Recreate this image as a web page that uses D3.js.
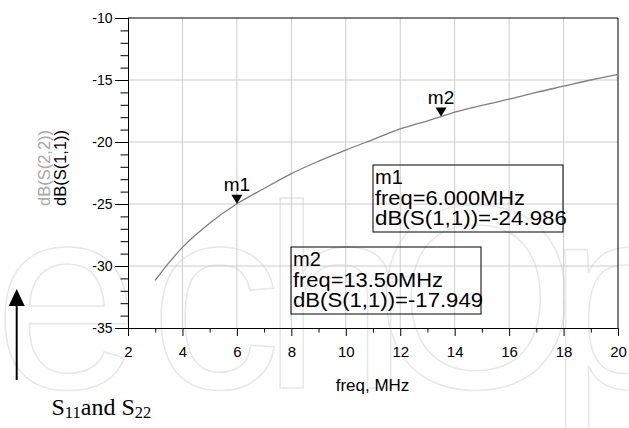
<!doctype html>
<html>
<head>
<meta charset="utf-8">
<style>
  body { margin: 0; background: #fff; }
  svg text { font-family: "Liberation Sans", Arial, Helvetica, sans-serif; }
</style>
<script src="https://d3js.org/d3.v7.min.js"></script>
</head>
<body>
<div id="chart"></div>
<script>
// curve dB(S(1,1))
var freqMHz = [3, 3.5, 4, 5, 6, 7, 8, 9, 10, 11, 12, 13, 13.5, 14, 15, 16, 17, 18, 19, 20];
var dbS11 = [-31.15, -29.75, -28.5, -26.55, -24.986, -23.75, -22.55, -21.55, -20.65, -19.8,
             -18.95, -18.3, -17.949, -17.6, -17.05, -16.55, -16.0, -15.5, -15.0, -14.55];

// markers
var markerNames = ["m1", "m2"];
var markerFreq = [6.0, 13.5];
var markerDb = [-24.986, -17.949];
var markerFreqText = ["freq=6.000MHz", "freq=13.50MHz"];
var markerDbText = ["dB(S(1,1))=-24.986", "dB(S(1,1))=-17.949"];

// ticks
var xMajor = [2, 4, 6, 8, 10, 12, 14, 16, 18, 20];
var xMinor = [3, 5, 7, 9, 11, 13, 15, 17, 19];
var yMajor = [-35, -30, -25, -20, -15, -10];
var yMinor = [-34, -33, -32, -31, -29, -28, -27, -26, -24, -23, -22, -21, -19, -18, -17, -16, -14, -13, -12, -11];

// watermark letters
var wmLetters = ["e", "c", "h", "O", "p"];

var W = 629, H = 428;
var svg = d3.select("#chart").append("svg")
    .attr("width", W)
    .attr("height", H);

// faint watermark behind everything
var wmX = [-6, 150, 262, 374, 548];
svg.append("g").selectAll("text")
    .data(wmLetters)
    .enter().append("text")
    .attr("x", function(d, i) { return wmX[i]; })
    .attr("y", 388)
    .attr("font-size", 262)
    .attr("fill", "none")
    .attr("stroke", "#e8e8e8")
    .attr("stroke-width", 1.6)
    .text(function(d) { return d; });

var x = d3.scaleLinear().domain([2, 20]).range([128, 618]);
var y = d3.scaleLinear().domain([-35, -10]).range([328, 18]);

// grid
svg.append("g").selectAll("line")
    .data(xMajor.slice(1, -1))
    .enter().append("line")
    .attr("x1", function(d) { return x(d); })
    .attr("x2", function(d) { return x(d); })
    .attr("y1", y(-10))
    .attr("y2", y(-35))
    .attr("stroke", "#cccccc");
svg.append("g").selectAll("line")
    .data(yMajor.slice(1, -1))
    .enter().append("line")
    .attr("x1", x(2))
    .attr("x2", x(20))
    .attr("y1", function(d) { return y(d); })
    .attr("y2", function(d) { return y(d); })
    .attr("stroke", "#cccccc");

// frame top / right
svg.append("path")
    .attr("d", "M" + x(2) + "," + y(-10) + "H" + x(20) + "V" + y(-35))
    .attr("fill", "none")
    .attr("stroke", "#000");

// x axis
var xAxis = svg.append("g").attr("transform", "translate(0," + y(-35) + ")");
xAxis.call(d3.axisBottom(x).tickValues(xMajor).tickSize(8).tickPadding(10).tickFormat(String));
xAxis.append("g").call(d3.axisBottom(x).tickValues(xMinor).tickSize(4.5).tickFormat(""));
xAxis.selectAll("text").attr("font-size", 15).attr("fill", "#000");

// y axis
var yAxis = svg.append("g").attr("transform", "translate(" + x(2) + ",0)");
yAxis.call(d3.axisLeft(y).tickValues(yMajor).tickSize(13).tickPadding(2.5).tickFormat(String));
yAxis.append("g").call(d3.axisLeft(y).tickValues(yMinor).tickSize(7.5).tickFormat(""));
yAxis.selectAll("text").attr("font-size", 14).attr("fill", "#000");

svg.selectAll(".domain").attr("stroke", "#000");
svg.selectAll(".tick line").attr("stroke", "#000");

// curve
var line = d3.line()
    .x(function(d, i) { return x(freqMHz[i]); })
    .y(function(d) { return y(d); })
    .curve(d3.curveMonotoneX);
svg.append("path")
    .datum(dbS11)
    .attr("d", line)
    .attr("fill", "none")
    .attr("stroke", "#7f7f7f")
    .attr("stroke-width", 1.3);

// marker triangles + names
markerNames.forEach(function(name, i) {
    var px = x(markerFreq[i]), py = y(markerDb[i]);
    svg.append("path")
        .attr("d", "M" + (px - 5.5) + "," + (py - 9) + "L" + (px + 5.5) + "," + (py - 9) + "L" + px + "," + py + "Z")
        .attr("fill", "#000");
    svg.append("text")
        .attr("x", px)
        .attr("y", py - 13)
        .attr("text-anchor", "middle")
        .attr("font-size", 19)
        .text(name);
});

// marker readout boxes
var boxPos = [[373, 165], [291, 247]];
var boxW = [150, 150], boxDbW = [192, 190];
markerNames.forEach(function(name, i) {
    var g = svg.append("g").attr("transform", "translate(" + boxPos[i][0] + "," + boxPos[i][1] + ")");
    g.append("rect")
        .attr("width", 190)
        .attr("height", 67)
        .attr("fill", "none")
        .attr("stroke", "#000");
    g.append("text").attr("x", 2).attr("y", 19).attr("font-size", 20).text(name);
    g.append("text").attr("x", 2).attr("y", 40).attr("font-size", 20)
        .attr("textLength", boxW[i]).attr("lengthAdjust", "spacingAndGlyphs")
        .text(markerFreqText[i]);
    g.append("text").attr("x", 2).attr("y", 60).attr("font-size", 20)
        .attr("textLength", boxDbW[i]).attr("lengthAdjust", "spacingAndGlyphs")
        .text(markerDbText[i]);
});

// axis titles
svg.append("text")
    .attr("transform", "translate(50,168) rotate(-90)")
    .attr("text-anchor", "middle")
    .attr("font-size", 16.5)
    .attr("fill", "#a8a8a8")
    .text("dB(S(2,2))");
svg.append("text")
    .attr("transform", "translate(66,168) rotate(-90)")
    .attr("text-anchor", "middle")
    .attr("font-size", 16.5)
    .attr("fill", "#000")
    .text("dB(S(1,1))");

svg.append("text")
    .attr("x", 372.5)
    .attr("y", 391)
    .attr("text-anchor", "middle")
    .attr("font-size", 17)
    .text("freq, MHz");

// arrow and caption
svg.append("line")
    .attr("x1", 16.7).attr("x2", 16.7)
    .attr("y1", 380).attr("y2", 303)
    .attr("stroke", "#000")
    .attr("stroke-width", 2);
svg.append("path")
    .attr("d", "M16.7,289L8.7,306L24.7,306Z")
    .attr("fill", "#000");

var cap = svg.append("text")
    .attr("x", 51.5)
    .attr("y", 415)
    .attr("font-size", 24)
    .style("font-family", "'Liberation Serif', 'Times New Roman', serif");
cap.append("tspan").text("S");
cap.append("tspan").attr("font-size", 16.5).attr("dy", 2.5).text("11");
cap.append("tspan").attr("dy", -2.5).text("and S");
cap.append("tspan").attr("font-size", 16.5).attr("dy", 2.5).text("22");
</script>
</body>
</html>
